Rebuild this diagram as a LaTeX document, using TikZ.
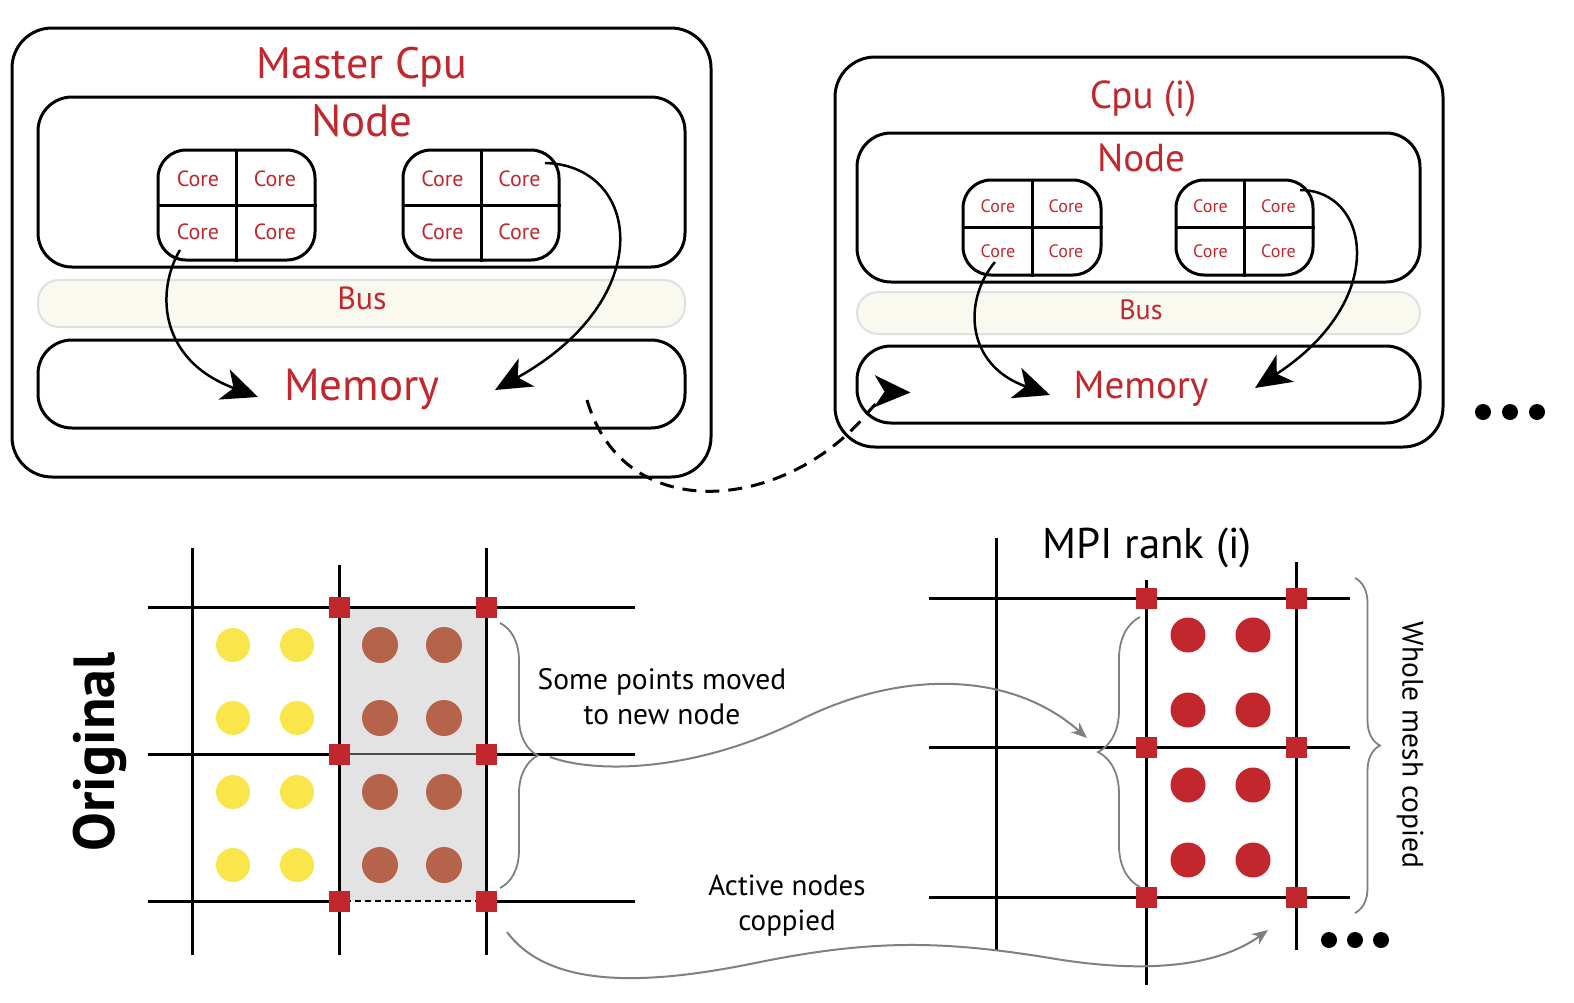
\documentclass[tikz,border=0pt]{standalone}
\usepackage{fontspec}
\setmainfont{PT Sans}
\usepackage{xcolor}
\usetikzlibrary{arrows.meta,positioning,decorations.pathreplacing}
\definecolor{cpured}{HTML}{C1272D}
\definecolor{cream}{HTML}{FAF9EF}
\definecolor{ptyellow}{HTML}{F9E64B}
\definecolor{ptbrown}{HTML}{B5634A}
\definecolor{meshgray}{HTML}{E3E3E3}

\begin{document}
\begin{tikzpicture}[
    x=1pt, y=-1pt,
    cpubox/.style={draw, line width=3pt, rounded corners=40pt, inner sep=0pt},
    partbox/.style={draw, line width=3pt, rounded corners=34pt, inner sep=0pt},
    busbox/.style={draw=black!12, fill=cream, line width=2pt, rounded corners=21pt, inner sep=0pt},
    coregrp/.style={draw, line width=3pt, rounded corners=28pt, inner sep=0pt},
    redtxt/.style={text=cpured, inner sep=0pt, anchor=base, font=\fontsize{#1}{#1}\selectfont},
    plaintxt/.style={inner sep=0pt, align=center, font=\fontsize{#1}{35}\selectfont},
    flow/.style={-{Stealth[length=36pt, width=32pt, inset=10pt]}, line width=2.5pt},
    link/.style={-{Stealth[length=16pt, width=13pt]}, draw=gray, line width=2pt},
    gbrace/.style={decorate, decoration={brace, amplitude=#1}, draw=gray, line width=1.8pt},
    meshln/.style={line width=3pt},
    actsq/.style={fill=cpured, minimum size=21pt, inner sep=0pt},
  ]
  \useasboundingbox (0,0) rectangle (1574,1002);

  % Master Cpu
  \node[cpubox, minimum width=699pt, minimum height=449pt] (master) at (361.5,252.5) {};
  \node[redtxt=44] (mastertxt) at (362,78) {Master Cpu};
  \node[partbox, minimum width=647pt, minimum height=170pt] (mnode) at (361.5,182) {};
  \node[redtxt=45] (mnodetxt) at (362,136) {Node};
  \node[busbox, minimum width=647pt, minimum height=47pt] (mbus) at (361.5,303.5) {};
  \node[redtxt=32] (mbustxt) at (362,309) {Bus};
  \node[partbox, minimum width=647pt, minimum height=88pt] (mmem) at (361.5,384) {};
  \node[redtxt=45] (mmemtxt) at (362,400) {Memory};

  \node[coregrp, minimum width=157pt, minimum height=110pt] (mg1) at (236.5,205) {};
  \node[coregrp, minimum width=156pt, minimum height=110pt] (mg2) at (481,205) {};
  \foreach \g in {mg1,mg2} {
    \draw[line width=3pt] (\g.north) -- (\g.south) (\g.west) -- (\g.east);
    \foreach \dx/\dy/\n in {-38.5/-19/a, 38.5/-19/b, -38.5/34/c, 38.5/34/d}
      \node[redtxt=22] (\g\n) at ([shift={(\dx,\dy)}]\g.center) {Core};
  }

  % Cpu (i)
  \node[cpubox, minimum width=608pt, minimum height=390pt] (cpu) at (1139,252) {};
  \node[redtxt=39] (cputxt) at (1143,108) {Cpu (i)};
  \node[partbox, minimum width=563pt, minimum height=149pt] (cnode) at (1138.5,207.5) {};
  \node[redtxt=39] (cnodetxt) at (1141,171) {Node};
  \node[busbox, minimum width=563pt, minimum height=42pt] (cbus) at (1138.5,313) {};
  \node[redtxt=28] (cbustxt) at (1141,319) {Bus};
  \node[partbox, minimum width=563pt, minimum height=77pt] (cmem) at (1138.5,384.5) {};
  \node[redtxt=39] (cmemtxt) at (1141,398) {Memory};

  \node[coregrp, minimum width=138pt, minimum height=95pt] (cg1) at (1032,227.5) {};
  \node[coregrp, minimum width=137pt, minimum height=95pt] (cg2) at (1244.5,227.5) {};
  \foreach \g in {cg1,cg2} {
    \draw[line width=3pt] (\g.north) -- (\g.south) (\g.west) -- (\g.east);
    \foreach \dx/\dy/\n in {-34/-15.5/a, 34/-15.5/b, -34/29.5/c, 34/29.5/d}
      \node[redtxt=18] (\g\n) at ([shift={(\dx,\dy)}]\g.center) {Core};
  }

  % core to memory
  \draw[flow] ([shift={(-56.5,45)}]mg1.center) .. controls +(-24,40) and +(-100,-37)
    .. ([shift={(-103.5,13)}]mmem.center);
  \draw[flow] ([shift={(64,-42)}]mg2.center) .. controls +(95,2) and +(165,-92)
    .. ([shift={(133.5,6)}]mmem.center);
  \draw[flow] ([shift={(-37,34.5)}]cg1.center) .. controls +(-32,38) and +(-85,-30)
    .. ([shift={(-88.5,10.5)}]cmem.center);
  \draw[flow] ([shift={(55.5,-37.5)}]cg2.center) .. controls +(70,0) and +(135,-88)
    .. ([shift={(116.5,3.5)}]cmem.center);

  % master to cpu (i)
  \coordinate (send) at (587,400);
  \draw[flow, line width=3pt, dash pattern=on 14pt off 9pt] (send) .. controls (625,530) and (790,510)
    .. (870,410) .. controls (885,393) and (895,392) .. ([shift={(55,8)}]cmem.west);

  \foreach \x in {1483,1510,1537} \fill (\x,412) circle (8);

  % Original mesh
  \fill[meshgray] (339,607) rectangle (486,901);
  \draw[line width=2pt, dash pattern=on 6pt off 4pt] (339,607) rectangle (486,901);
  \draw[meshln] (148,607) -- (635,607);
  \draw[meshln] (148,754) -- (339,754) (486,754) -- (635,754);
  \draw[line width=2pt, black!70] (339,754) -- (486,754);
  \draw[meshln] (148,901) -- (339,901) (486,901) -- (635,901);
  \draw[meshln] (192,548) -- (192,955);
  \draw[meshln] (339,565) -- (339,955);
  \draw[meshln] (486,548) -- (486,955);
  \foreach \y in {645,718,792,865} {
    \fill[ptyellow] (233,\y) circle (17) (297,\y) circle (17);
    \fill[ptbrown] (380,\y) circle (18) (444,\y) circle (18);
  }
  \foreach \x in {339,486}
    \foreach \y in {607,754,901}
      \node[actsq] (sq\x-\y) at (\x,\y) {};
  \node[rotate=90, inner sep=0pt, font=\bfseries\fontsize{58}{58}\selectfont] (origtxt) at (100,752) {Original};

  \draw[gbrace=38pt] (500,623) -- (500,888);
  \coordinate (movedtip) at (550,757);
  \node[plaintxt=29.5] (movedtxt) at (662,697) {Some points moved\\to new node};
  \coordinate (activetip) at (507,932);
  \node[plaintxt=29] (activetxt) at (787,906) {Active nodes\\coppied};

  % MPI rank (i) mesh
  \node[inner sep=0pt, anchor=base, font=\fontsize{43}{43}\selectfont] (ranktxt) at (1147,558) {MPI rank (i)};
  \foreach \y in {598,747,897} \draw[meshln] (929,\y) -- (1350,\y);
  \draw[meshln] (996,538) -- (996,950);
  \draw[meshln] (1146,580) -- (1146,985);
  \draw[meshln] (1296,562) -- (1296,950);
  \foreach \y in {635,710,785,860}
    \fill[cpured] (1188,\y) circle (17.5) (1253,\y) circle (17.5);
  \foreach \x in {1146,1296}
    \foreach \y in {598,747,897}
      \node[actsq] (rq\x-\y) at (\x,\y) {};

  \draw[gbrace=42pt] (1140,887) -- (1140,617);
  \draw[gbrace=25pt] (1355,578) -- (1355,913);
  \node[rotate=-90, inner sep=0pt, font=\fontsize{29.5}{29.5}\selectfont] (wholetxt) at (1410,745) {Whole mesh copied};
  \coordinate (movedend) at (1087,738);
  \coordinate (activeend) at (1268,930);
  \foreach \x in {1329,1355,1381} \fill (\x,940) circle (8);

  % moved / copied links
  \draw[link] (movedtip) .. controls (600,775) and (700,770) .. (800,720)
    .. controls (900,670) and (1010,670) .. (movedend);
  \draw[link] (activetip) .. controls (550,990) and (650,985) .. (760,962)
    .. controls (870,940) and (940,940) .. (1050,958)
    .. controls (1150,975) and (1220,965) .. (activeend);
\end{tikzpicture}
\end{document}
